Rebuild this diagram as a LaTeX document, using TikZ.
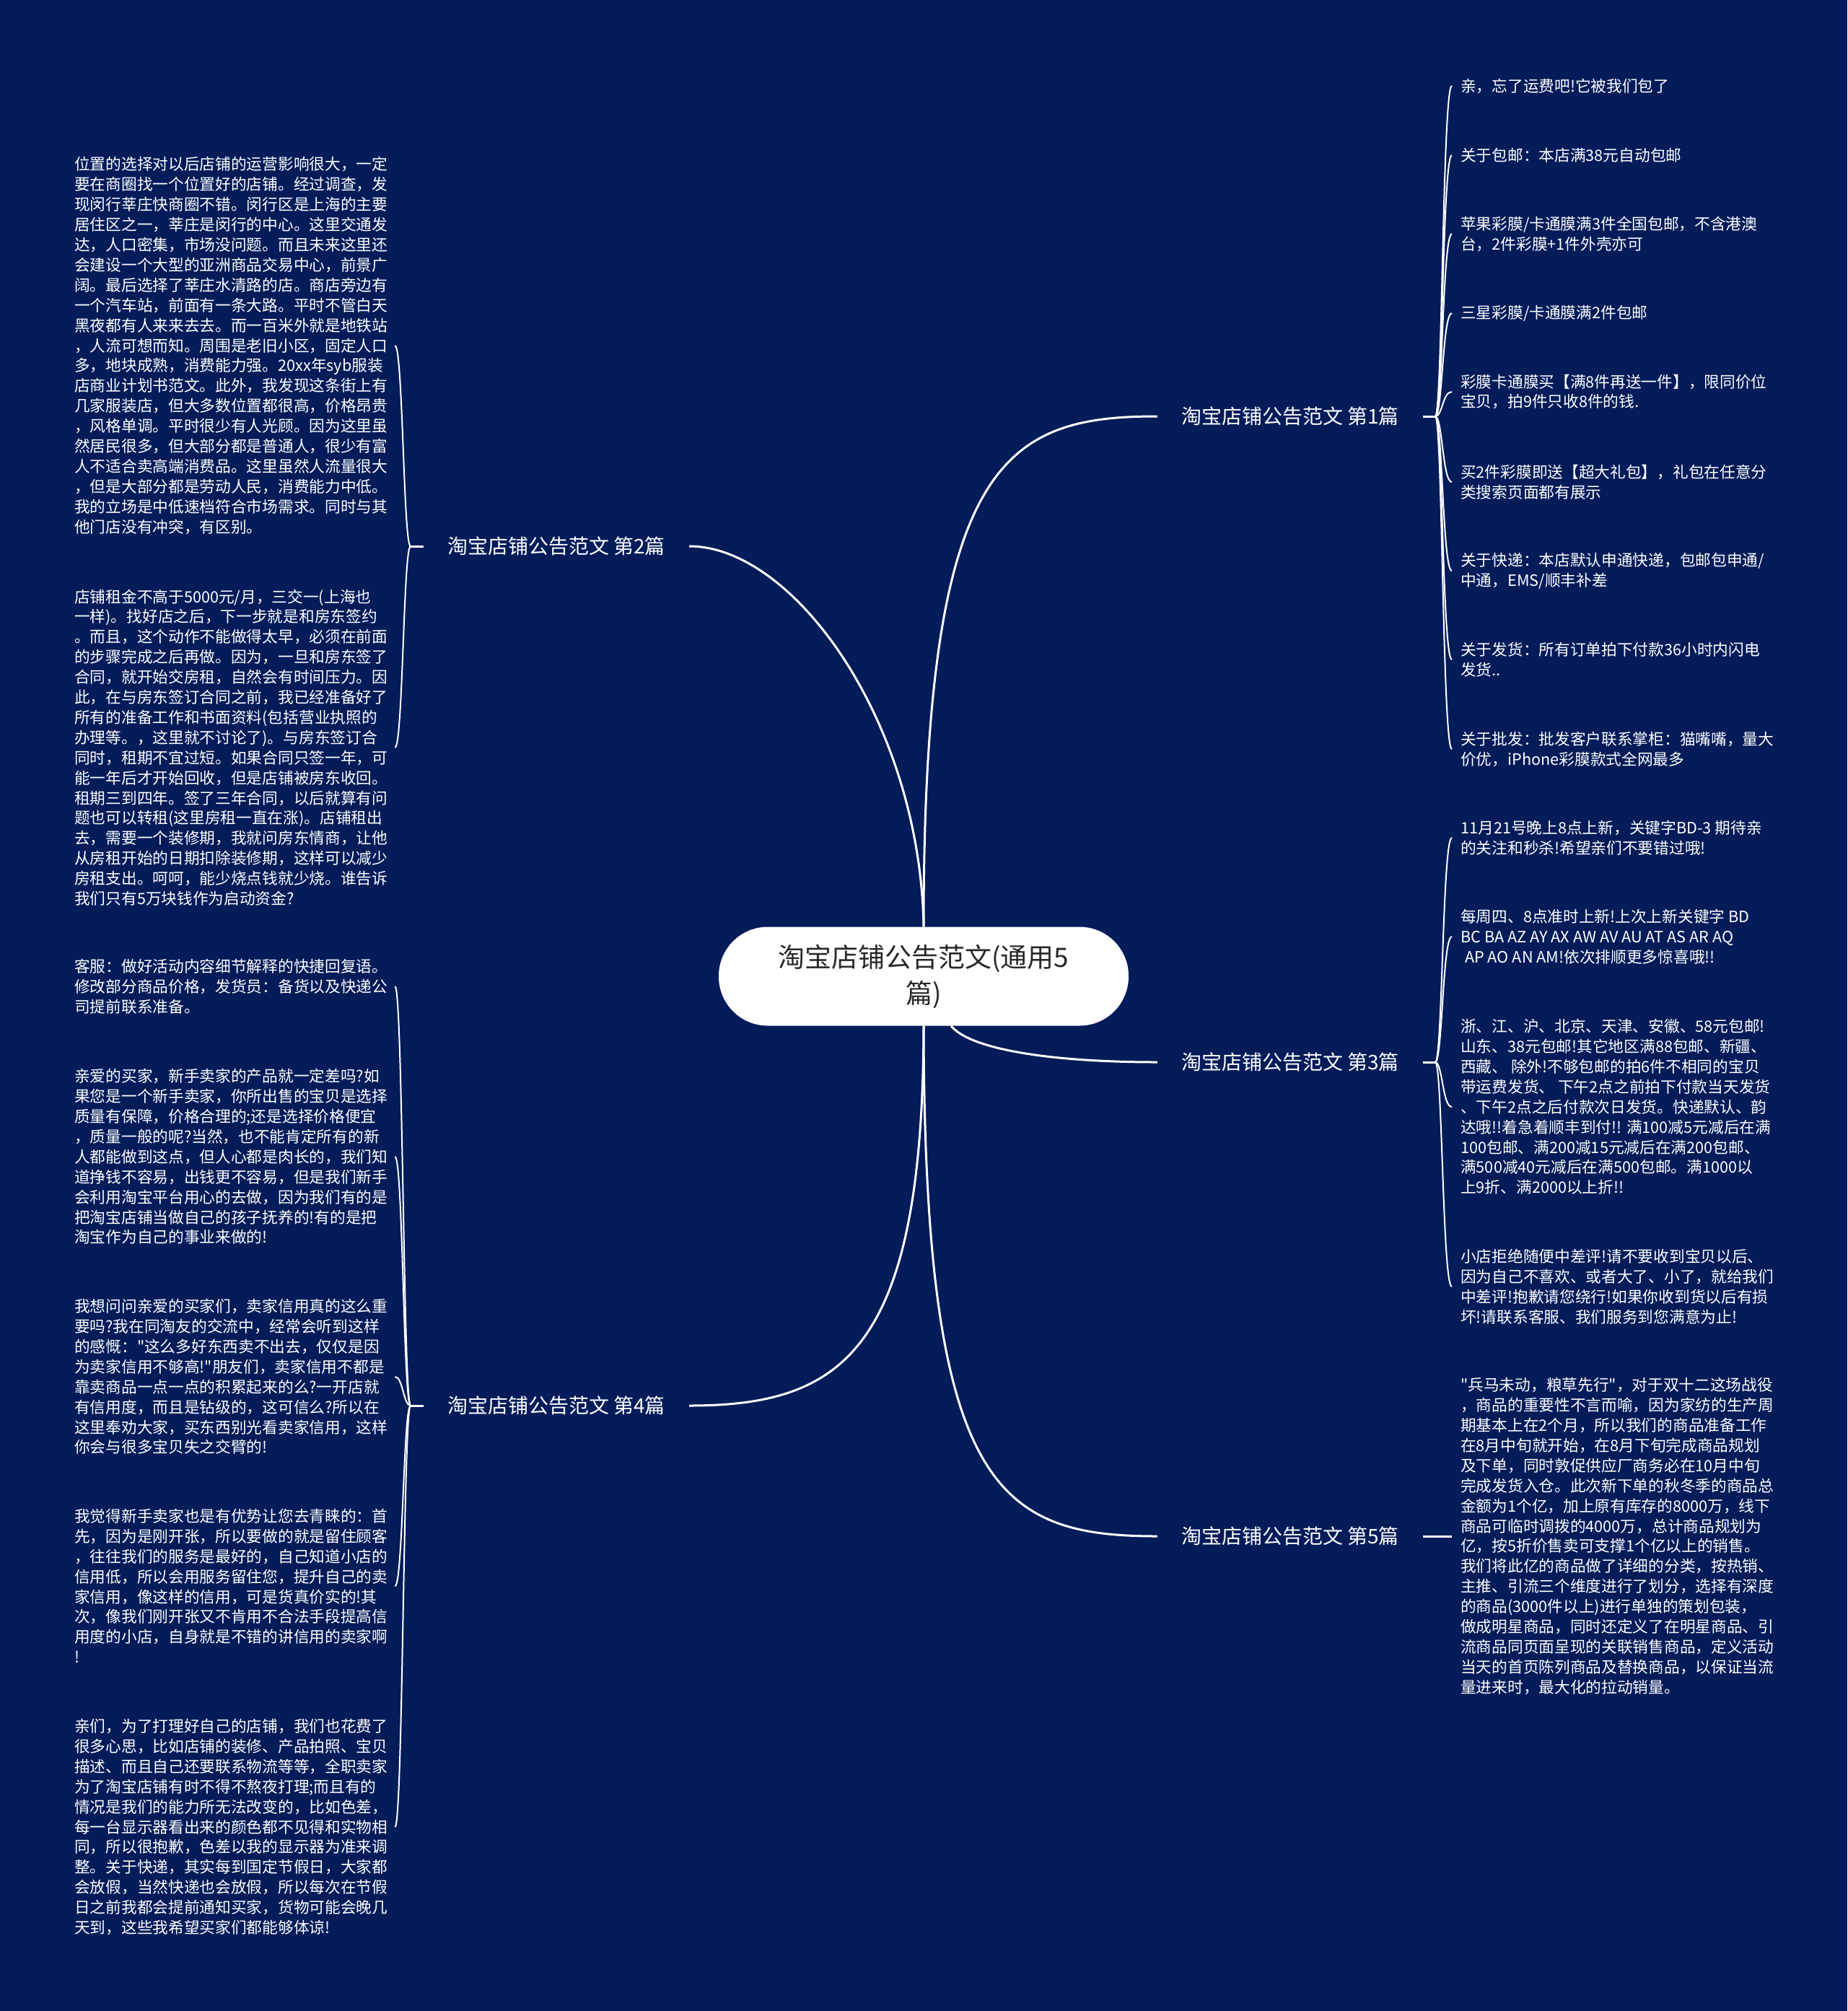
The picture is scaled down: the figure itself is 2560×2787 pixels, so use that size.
\documentclass[tikz,border=0pt]{standalone}
\usepackage{fontspec}
\setmainfont{Noto Sans CJK SC}[Ligatures=TeXOff]
\usetikzlibrary{calc}
\definecolor{bg}{RGB}{2,27,89}
\definecolor{roottext}{RGB}{40,40,40}
\begin{document}
\begin{tikzpicture}[x=1pt,y=-1pt,
  leaf/.style={text=white, font=\fontsize{21.7}{27.9}\selectfont, align=left, inner ysep=0pt, anchor=west},
  leafR/.style={leaf, inner xsep=12pt},
  leafL/.style={leaf, inner xsep=10pt},
  branch/.style={text=white, font=\fontsize{28}{34}\selectfont, minimum width=368pt, minimum height=40pt, inner sep=0pt},
  rootbox/.style={fill=white, rounded corners=68pt, minimum width=568pt, minimum height=137pt, inner sep=0pt, text=roottext, font=\fontsize{37}{50}\selectfont, align=center},
  link/.style={draw=white, line width=3pt},
  twig/.style={draw=white, line width=2pt}]

\fill[bg] (0,0) rectangle (2560,2787);
\useasboundingbox (0,0) rectangle (2560,2787);

% root and branches
\node[rootbox] (root) at (1280,1353) {淘宝店铺公告范文(通用5\\篇)};
\node[branch] (b1) at (1788,577) {淘宝店铺公告范文 第1篇};
\node[branch] (b2) at (771,757) {淘宝店铺公告范文 第2篇};
\node[branch] (b3) at (1788,1472) {淘宝店铺公告范文 第3篇};
\node[branch] (b4) at (771,1948) {淘宝店铺公告范文 第4篇};
\node[branch] (b5) at (1788,2129) {淘宝店铺公告范文 第5篇};

\draw[link] (root.north) .. controls (1280,640) and (1390,577) .. (b1.west);
\draw[link] (root.north) .. controls (1275,1000) and (1100,757) .. (b2.east);
\draw[link] ([xshift=38pt]root.south) .. controls (1345,1455) and (1460,1472) .. (b3.west);
\draw[link] (root.south) .. controls (1279,1870) and (1170,1948) .. (b4.east);
\draw[link] (root.south) .. controls (1281,2060) and (1380,2129) .. (b5.west);

\coordinate (j1) at (1989,577);
\coordinate (j2) at (569,757);
\coordinate (j3) at (1989,1472);
\coordinate (j4) at (569,1948);
\coordinate (j5) at (1989,2129);
\draw[link] (b1.east) -- (j1);
\draw[link] (b2.west) -- (j2);
\draw[link] (b3.east) -- (j3);
\draw[link] (b4.west) -- (j4);
\draw[link] (b5.east) -- (j5);

% branch 1 children
\node[leafR] (r1) at (2012,119) {亲，忘了运费吧!它被我们包了};
\node[leafR] (r2) at (2012,215) {关于包邮：本店满38元自动包邮};
\node[leafR] (r3) at (2012,324) {苹果彩膜/卡通膜满3件全国包邮，不含港澳\\台，2件彩膜+1件外壳亦可};
\node[leafR] (r4) at (2012,434) {三星彩膜/卡通膜满2件包邮};
\node[leafR] (r5) at (2012,543) {彩膜卡通膜买【满8件再送一件】，限同价位\\宝贝，拍9件只收8件的钱.};
\node[leafR] (r6) at (2012,668) {买2件彩膜即送【超大礼包】，礼包在任意分\\类搜索页面都有展示};
\node[leafR] (r7) at (2012,791) {关于快递：本店默认申通快递，包邮包申通/\\中通，EMS/顺丰补差};
\node[leafR] (r8) at (2012,914) {关于发货：所有订单拍下付款36小时内闪电\\发货..};
\node[leafR] (r9) at (2012,1038) {关于批发：批发客户联系掌柜：猫嘴嘴，量大\\价优，iPhone彩膜款式全网最多};

% branch 3 children
\node[leafR] (s1) at (2012,1161) {11月21号晚上8点上新，关键字BD-3 期待亲\\的关注和秒杀!希望亲们不要错过哦!};
\node[leafR] (s2) at (2012,1298) {每周四、8点准时上新!上次上新关键字 BD\\BC BA AZ AY AX AW AV AU AT AS AR AQ\\\hspace*{6pt}AP AO AN AM!依次排顺更多惊喜哦!!};
\node[leafR] (s3) at (2012,1534) {浙、江、沪、北京、天津、安徽、58元包邮!\\山东、38元包邮!其它地区满88包邮、新疆、\\西藏、 除外!不够包邮的拍6件不相同的宝贝\\带运费发货、 下午2点之前拍下付款当天发货\\、下午2点之后付款次日发货。快递默认、韵\\达哦!!着急着顺丰到付!! 满100减5元减后在满\\100包邮、满200减15元减后在满200包邮、\\满500减40元减后在满500包邮。满1000以\\上9折、满2000以上折!!};
\node[leafR] (s4) at (2012,1783) {小店拒绝随便中差评!请不要收到宝贝以后、\\因为自己不喜欢、或者大了、小了，就给我们\\中差评!抱歉请您绕行!如果你收到货以后有损\\坏!请联系客服、我们服务到您满意为止!};

% branch 5 child
\node[leafR] (t1) at (2012,2129) {"兵马未动，粮草先行"，对于双十二这场战役\\，商品的重要性不言而喻，因为家纺的生产周\\期基本上在2个月，所以我们的商品准备工作\\在8月中旬就开始，在8月下旬完成商品规划\\及下单，同时敦促供应厂商务必在10月中旬\\完成发货入仓。此次新下单的秋冬季的商品总\\金额为1个亿，加上原有库存的8000万，线下\\商品可临时调拨的4000万，总计商品规划为\\亿，按5折价售卖可支撑1个亿以上的销售。\\我们将此亿的商品做了详细的分类，按热销、\\主推、引流三个维度进行了划分，选择有深度\\的商品(3000件以上)进行单独的策划包装，\\做成明星商品，同时还定义了在明星商品、引\\流商品同页面呈现的关联销售商品，定义活动\\当天的首页陈列商品及替换商品，以保证当流\\量进来时，最大化的拉动销量。};

% branch 2 children
\node[leafL] (l1) at (93,479) {位置的选择对以后店铺的运营影响很大，一定\\要在商圈找一个位置好的店铺。经过调查，发\\现闵行莘庄快商圈不错。闵行区是上海的主要\\居住区之一，莘庄是闵行的中心。这里交通发\\达，人口密集，市场没问题。而且未来这里还\\会建设一个大型的亚洲商品交易中心，前景广\\阔。最后选择了莘庄水清路的店。商店旁边有\\一个汽车站，前面有一条大路。平时不管白天\\黑夜都有人来来去去。而一百米外就是地铁站\\，人流可想而知。周围是老旧小区，固定人口\\多，地块成熟，消费能力强。20xx年syb服装\\店商业计划书范文。此外，我发现这条街上有\\几家服装店，但大多数位置都很高，价格昂贵\\，风格单调。平时很少有人光顾。因为这里虽\\然居民很多，但大部分都是普通人，很少有富\\人不适合卖高端消费品。这里虽然人流量很大\\，但是大部分都是劳动人民，消费能力中低。\\我的立场是中低速档符合市场需求。同时与其\\他门店没有冲突，有区别。};
\node[leafL] (l2) at (93,1036) {店铺租金不高于5000元/月，三交一(上海也\\一样)。找好店之后，下一步就是和房东签约\\。而且，这个动作不能做得太早，必须在前面\\的步骤完成之后再做。因为，一旦和房东签了\\合同，就开始交房租，自然会有时间压力。因\\此，在与房东签订合同之前，我已经准备好了\\所有的准备工作和书面资料(包括营业执照的\\办理等。，这里就不讨论了)。与房东签订合\\同时，租期不宜过短。如果合同只签一年，可\\能一年后才开始回收，但是店铺被房东收回。\\租期三到四年。签了三年合同，以后就算有问\\题也可以转租(这里房租一直在涨)。店铺租出\\去，需要一个装修期，我就问房东情商，让他\\从房租开始的日期扣除装修期，这样可以减少\\房租支出。呵呵，能少烧点钱就少烧。谁告诉\\我们只有5万块钱作为启动资金?};

% branch 4 children
\node[leafL] (l3) at (93,1367) {客服：做好活动内容细节解释的快捷回复语。\\修改部分商品价格，发货员：备货以及快递公\\司提前联系准备。};
\node[leafL] (l4) at (93,1603) {亲爱的买家，新手卖家的产品就一定差吗?如\\果您是一个新手卖家，你所出售的宝贝是选择\\质量有保障，价格合理的;还是选择价格便宜\\，质量一般的呢?当然，也不能肯定所有的新\\人都能做到这点，但人心都是肉长的，我们知\\道挣钱不容易，出钱更不容易，但是我们新手\\会利用淘宝平台用心的去做，因为我们有的是\\把淘宝店铺当做自己的孩子抚养的!有的是把\\淘宝作为自己的事业来做的!};
\node[leafL] (l5) at (93,1908) {我想问问亲爱的买家们，卖家信用真的这么重\\要吗?我在同淘友的交流中，经常会听到这样\\的感慨："这么多好东西卖不出去，仅仅是因\\为卖家信用不够高!"朋友们，卖家信用不都是\\靠卖商品一点一点的积累起来的么?一开店就\\有信用度，而且是钻级的，这可信么?所以在\\这里奉劝大家，买东西别光看卖家信用，这样\\你会与很多宝贝失之交臂的!};
\node[leafL] (l6) at (93,2198) {我觉得新手卖家也是有优势让您去青睐的：首\\先，因为是刚开张，所以要做的就是留住顾客\\，往往我们的服务是最好的，自己知道小店的\\信用低，所以会用服务留住您，提升自己的卖\\家信用，像这样的信用，可是货真价实的!其\\次，像我们刚开张又不肯用不合法手段提高信\\用度的小店，自身就是不错的讲信用的卖家啊\\!};
\node[leafL] (l7) at (93,2532) {亲们，为了打理好自己的店铺，我们也花费了\\很多心思，比如店铺的装修、产品拍照、宝贝\\描述、而且自己还要联系物流等等，全职卖家\\为了淘宝店铺有时不得不熬夜打理;而且有的\\情况是我们的能力所无法改变的，比如色差，\\每一台显示器看出来的颜色都不见得和实物相\\同，所以很抱歉，色差以我的显示器为准来调\\整。关于快递，其实每到国定节假日，大家都\\会放假，当然快递也会放假，所以每次在节假\\日之前我都会提前通知买家，货物可能会晚几\\天到，这些我希望买家们都能够体谅!};

% child connectors (right side)
\foreach \c in {r1,r2,r3,r4,r5,r6,r7,r8,r9}
  \draw[twig] (j1) .. controls ([xshift=10pt]j1) and ([xshift=-13pt]\c.west) .. (\c.west);
\foreach \c in {s1,s2,s3,s4}
  \draw[twig] (j3) .. controls ([xshift=10pt]j3) and ([xshift=-13pt]\c.west) .. (\c.west);
\draw[link] (j5) -- (t1.west);

% child connectors (left side)
\foreach \c in {l1,l2}
  \draw[twig] (j2) .. controls ([xshift=-10pt]j2) and ([xshift=11pt]\c.east) .. (\c.east);
\foreach \c in {l3,l4,l5,l6,l7}
  \draw[twig] (j4) .. controls ([xshift=-10pt]j4) and ([xshift=11pt]\c.east) .. (\c.east);

\end{tikzpicture}
\end{document}
